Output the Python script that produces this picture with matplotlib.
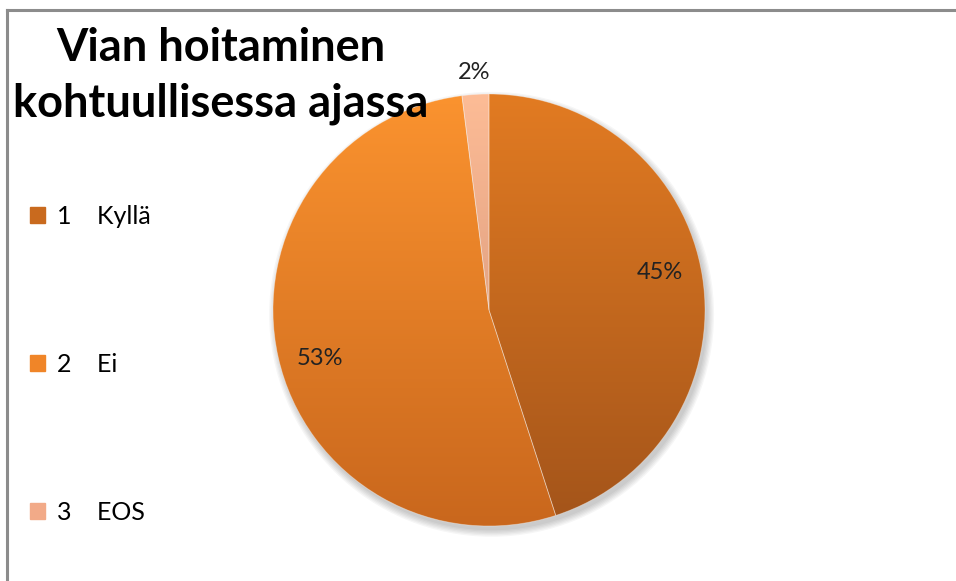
import matplotlib.pyplot as plt
import matplotlib.colors as mcolors
from matplotlib.patches import Circle, Rectangle
import numpy as np

# Vian hoitaminen kohtuullisessa ajassa
vastaukset = ["Kyllä", "Ei", "EOS"]
numerot = ["1", "2", "3"]
osuudet = [45, 53, 2]

vari_yla = ["#e27b22", "#fb932f", "#fdbc96"]
vari_ala = ["#a3541a", "#c9671d", "#c98a70"]
vari_leg = ["#c96a1e", "#f08528", "#f2aa88"]

fig = plt.figure(figsize=(9.56, 5.81), dpi=100)
fig.patch.set_facecolor("white")

# harmaa kehys
fig.add_artist(plt.Line2D([6.5/956, 6.5/956], [0, 1 - 9.5/581], color="#8c8c8c", lw=2.2))
fig.add_artist(plt.Line2D([6.5/956, 1], [1 - 9.5/581, 1 - 9.5/581], color="#8c8c8c", lw=2.2))

cx, cy, r = 489/956, 1 - 310/581, 216
ax = fig.add_axes([cx - r/956, cy - r/581, 2*r/956, 2*r/581])
ax.set_xlim(-1, 1)
ax.set_ylim(-1, 1)
ax.axis("off")

# pehmeä varjo
for k in range(6):
    ax.add_patch(Circle((0.012, -0.02), 1.0 + 0.006*k, color="#000000", alpha=0.035, lw=0,
                        zorder=0, clip_on=False))

wedges, texts, autotexts = ax.pie(osuudet, startangle=90, counterclock=False, radius=1,
                                  colors=vari_leg, autopct="%.0f%%", pctdistance=0.8,
                                  wedgeprops=dict(edgecolor=(1, 1, 1, 0.35), linewidth=0.6),
                                  textprops=dict(fontsize=17, family="Lato", color="#222222"))
ax.set_xlim(-1, 1)
ax.set_ylim(-1, 1)

# liukuväri
for w, c1, c2 in zip(wedges, vari_yla, vari_ala):
    a = np.array(mcolors.to_rgb(c1))
    b = np.array(mcolors.to_rgb(c2))
    t = np.linspace(0, 1, 256)[:, None]
    grad = (a * (1 - t) + b * t)[:, None, :]
    im = ax.imshow(grad, extent=(-1, 1, -1, 1), aspect="auto", zorder=1.5)
    im.set_clip_path(w)
    w.set_facecolor("none")
    w.set_zorder(2)

# 2% ulkopuolelle
w = wedges[2]
ang = np.deg2rad((w.theta1 + w.theta2) / 2)
autotexts[2].set_position((1.1*np.cos(ang), 1.1*np.sin(ang)))
for t in autotexts:
    t.set_zorder(5)
for t in autotexts[:2]:
    x, y = t.get_position()
    t.set_position((x, y + 0.05*np.sign(y)))

fig.text(221/956, 1 - 76/581, "Vian hoitaminen\nkohtuullisessa ajassa", ha="center", va="center",
         fontsize=32.5, fontweight="bold", family="Lato", linespacing=1.38, zorder=10)

handles = [Rectangle((0, 0), 1, 1, color=c) for c in vari_leg]
labels = [n + "    " + v for n, v in zip(numerot, vastaukset)]
leg = fig.legend(handles, labels, loc="upper left", bbox_to_anchor=(7/956, 1 - 182/581),
                 frameon=False, prop=dict(family="Lato", size=18), labelspacing=5.0,
                 handlelength=0.6, handleheight=0.6, handletextpad=0.5)

plt.savefig("out.png", dpi=100)
